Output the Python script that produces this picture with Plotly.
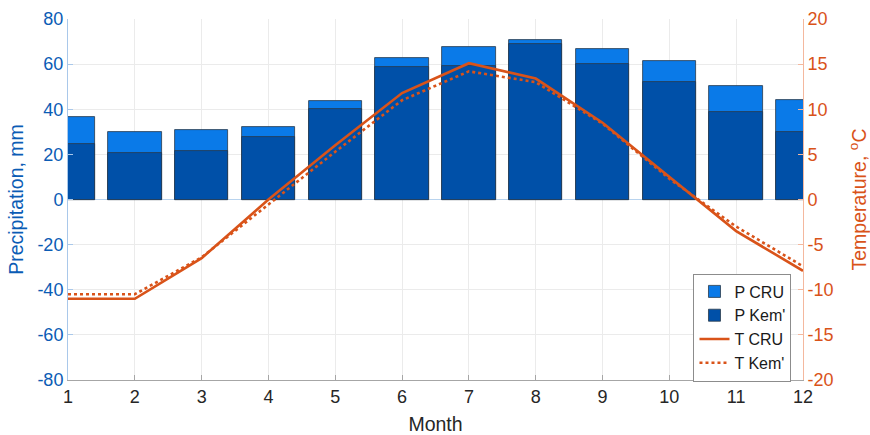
import plotly.graph_objects as go

# Monthly climate data
months = [1, 2, 3, 4, 5, 6, 7, 8, 9, 10, 11, 12]
p_cru = [36.7, 29.9, 31.0, 32.1, 43.6, 62.9, 67.5, 70.7, 66.7, 61.6, 50.5, 44.2]
p_kem = [24.8, 20.6, 21.4, 27.7, 40.2, 58.8, 59.2, 68.8, 60.1, 52.0, 39.0, 29.9]
t_cru = [-11.0, -11.0, -6.5, 0.0, 6.0, 11.8, 15.1, 13.4, 8.5, 2.5, -3.5, -7.9]
t_kem = [-10.5, -10.5, -6.4, -0.5, 5.3, 11.0, 14.2, 13.0, 8.4, 2.3, -3.0, -7.4]

left_ticks = [-80, -60, -40, -20, 0, 20, 40, 60, 80]
right_ticks = [-20, -15, -10, -5, 0, 5, 10, 15, 20]

BLUE_TXT = "#0B5CB5"
ORANGE = "#D95319"
FONT = "Liberation Sans, Arial, sans-serif"

fig = go.Figure()
fig.add_trace(go.Bar(x=months, y=p_cru, name="P CRU", width=0.8,
                     marker=dict(color="#0A7AE8", line=dict(color="#2A3A4A", width=0.8))))
fig.add_trace(go.Bar(x=months, y=p_kem, name="P Kem'", width=0.8,
                     marker=dict(color="#0050A8", line=dict(color="#2A3A4A", width=0.8))))
fig.add_trace(go.Scatter(x=months, y=t_cru, name="T CRU", mode="lines", yaxis="y2",
                         line=dict(color=ORANGE, width=2.6)))
fig.add_trace(go.Scatter(x=months, y=t_kem, name="T Kem'", mode="lines", yaxis="y2",
                         line=dict(color=ORANGE, width=2.6, dash="dot")))

fig.update_layout(
    width=870, height=435,
    margin=dict(l=68, r=67, t=19, b=55),
    paper_bgcolor="white", plot_bgcolor="white",
    barmode="overlay", bargap=0,
    font=dict(family=FONT, size=18, color="#262626"),
    xaxis=dict(range=[1, 12], tickmode="array", tickvals=months, automargin=False,
               showgrid=True, gridcolor="#EBEBEB", gridwidth=1,
               showline=True, linecolor="#A6A6A6", linewidth=1,
               ticks="inside", ticklen=5, tickcolor="#A6A6A6",
               tickfont=dict(size=18, color="#262626"), zeroline=False,
               title=dict(text="Month", font=dict(size=19.5, color="#262626"), standoff=12)),
    yaxis=dict(range=[-80, 80], tickmode="array", tickvals=left_ticks, automargin=False,
               ticktext=[str(v) for v in left_ticks],
               showgrid=True, gridcolor="#EBEBEB", gridwidth=1,
               zeroline=True, zerolinecolor="#B8D3EE", zerolinewidth=1,
               showline=True, linecolor="#A9C8EA", linewidth=1,
               ticks="inside", ticklen=5, tickcolor="#A9C8EA",
               tickfont=dict(size=18, color=BLUE_TXT),
               title=dict(text="Precipitation, mm", font=dict(size=19.5, color=BLUE_TXT), standoff=8)),
    yaxis2=dict(range=[-20, 20], tickmode="array", tickvals=right_ticks, automargin=False,
                ticktext=[str(v) for v in right_ticks],
                overlaying="y", side="right", showgrid=False, zeroline=False,
                showline=True, linecolor="#F4B89E", linewidth=1,
                ticks="inside", ticklen=5, tickcolor="#F4B89E",
                tickfont=dict(size=18, color=ORANGE),
                title=dict(text="Temperature, <sup>o</sup>C", font=dict(size=19.5, color=ORANGE), standoff=20)),
    legend=dict(x=0.851, y=0.295, xanchor="left", yanchor="top",
                bgcolor="white", bordercolor="#8C8C8C", borderwidth=1,
                font=dict(size=16, color="#1A1A1A"), tracegroupgap=0,
                itemwidth=30),
    showlegend=True,
)

fig.write_html("out.html")
